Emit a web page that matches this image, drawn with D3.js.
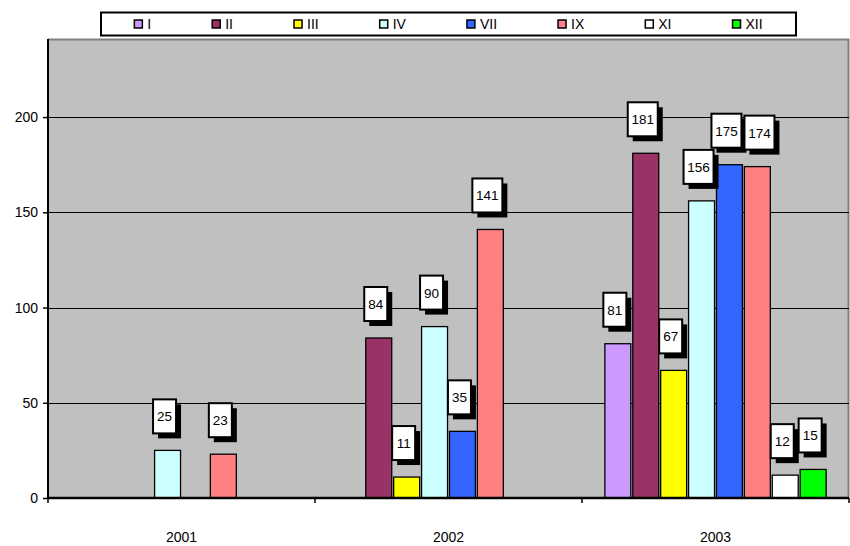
<!DOCTYPE html>
<html>
<head>
<meta charset="utf-8">
<script src="https://cdn.jsdelivr.net/npm/d3@7"></script>
<style>
  body { margin: 0; background: #fff; }
  text { font-family: Arial, "Liberation Sans", sans-serif; }
</style>
</head>
<body>
<svg id="chart" width="850" height="546"></svg>
<script>
const years = ["2001", "2002", "2003"];
const seriesNames = ["I", "II", "III", "IV", "VII", "IX", "XI", "XII"];
const seriesColors = ["#CC99FF", "#993366", "#FFFF00", "#CCFFFF", "#3366FF", "#FF8080", "#FFFFFF", "#00FF00"];
const valsI = [null, null, 81];
const valsII = [null, 84, 181];
const valsIII = [null, 11, 67];
const valsIV = [25, 90, 156];
const valsVII = [null, 35, 175];
const valsIX = [23, 141, 174];
const valsXI = [null, null, 12];
const valsXII = [null, null, 15];
const yTicks = [0, 50, 100, 150, 200];

const allVals = [valsI, valsII, valsIII, valsIV, valsVII, valsIX, valsXI, valsXII];

let data = [];
years.forEach((yr, j) => {
  seriesNames.forEach((s, i) => {
    if (allVals[i][j] != null) data.push({ series: s, year: yr, value: allVals[i][j], color: seriesColors[i] });
  });
});

let svg = d3.select("#chart");
let margin = { top: 39, right: 1, bottom: 48, left: 48 };
let width = 850 - margin.left - margin.right;
let height = 546 - margin.top - margin.bottom;

let g = svg.append("g")
  .attr("transform", "translate(" + margin.left + "," + margin.top + ")");

// scales
let x0 = d3.scaleBand().domain(years).range([0, width]).padding(0);
let x1 = d3.scaleBand().domain(seriesNames).range([0, x0.bandwidth()])
  .paddingInner(0.07).paddingOuter(0.82);
let y = d3.scaleLinear().domain([0, 241]).range([height, 0]);

// plot background
g.append("rect")
  .attr("width", width).attr("height", height)
  .attr("fill", "#C0C0C0");
g.append("path")
  .attr("d", "M0,0.5H" + (width - 0.5) + "V" + height)
  .attr("fill", "none").attr("stroke", "#808080").attr("stroke-width", 2);

// gridlines
g.selectAll(".grid")
  .data(yTicks.filter(d => d > 0))
  .enter().append("line")
  .attr("x1", 0).attr("x2", width)
  .attr("y1", d => Math.round(y(d)) + 0.5).attr("y2", d => Math.round(y(d)) + 0.5)
  .attr("stroke", "#000").attr("stroke-width", 1);

// bars
g.selectAll(".bar")
  .data(data)
  .enter().append("rect")
  .attr("class", "bar")
  .attr("x", d => x0(d.year) + x1(d.series))
  .attr("y", d => y(d.value))
  .attr("width", x1.bandwidth())
  .attr("height", d => height - y(d.value))
  .attr("fill", d => d.color)
  .attr("stroke", "#000")
  .attr("stroke-width", 1.3);

// data labels: white box with black drop shadow
let lab = g.selectAll(".lab")
  .data(data)
  .enter().append("g")
  .attr("class", "lab");

let prevRight = -Infinity, prevYear = null, prevTop = 0, prevBottom = 0;
lab.each(function (d) {
  let sel = d3.select(this);
  let cx = x0(d.year) + x1(d.series) + x1.bandwidth() / 2 - 3;
  let bw = String(d.value).length > 2 ? 30 : 23;
  let bh = 34;
  let by = y(d.value) - 17 - bh;
  let bx = cx - bw / 2;
  // nudge right when it would run into the previous label
  if (prevYear === d.year && bx < prevRight + 3 && by < prevBottom && by + bh > prevTop) {
    bx = prevRight + 3;
  }
  prevRight = bx + bw; prevYear = d.year; prevTop = by; prevBottom = by + bh;
  sel.append("rect")
    .attr("x", bx + 5).attr("y", by + 5)
    .attr("width", bw).attr("height", bh)
    .attr("fill", "#000");
  sel.append("rect")
    .attr("x", bx).attr("y", by)
    .attr("width", bw).attr("height", bh)
    .attr("fill", "#fff").attr("stroke", "#000").attr("stroke-width", 2);
  sel.append("text")
    .attr("x", bx + bw / 2).attr("y", by + bh / 2 + 5)
    .attr("text-anchor", "middle")
    .attr("font-size", "13.5px")
    .attr("fill", "#000")
    .text(d.value);
});

// y axis
let yAxis = g.append("g")
  .call(d3.axisLeft(y).tickValues(yTicks).tickSize(5).tickPadding(5).tickFormat(d3.format("d")));
yAxis.select(".domain").attr("stroke", "#000").attr("stroke-width", 2).attr("d", "M0,0V" + (height + 1));
yAxis.selectAll(".tick line").attr("stroke", "#000").attr("stroke-width", 1.5);
yAxis.selectAll("text").attr("font-size", "14px").attr("fill", "#000")
  .style("font-family", "Arial, 'Liberation Sans', sans-serif");

// x axis
let xAxis = g.append("g")
  .attr("transform", "translate(0," + height + ")");
xAxis.append("line")
  .attr("x1", -1).attr("x2", width).attr("y1", 0).attr("y2", 0)
  .attr("stroke", "#000").attr("stroke-width", 2.5);
xAxis.selectAll(".xt")
  .data(years.map(d => x0(d)).concat([width]))
  .enter().append("line")
  .attr("x1", d => d).attr("x2", d => d)
  .attr("y1", 0).attr("y2", 5)
  .attr("stroke", "#000").attr("stroke-width", 1.5);
xAxis.selectAll(".xl")
  .data(years)
  .enter().append("text")
  .attr("x", d => x0(d) + x0.bandwidth() / 2)
  .attr("y", 44)
  .attr("text-anchor", "middle")
  .attr("font-size", "14px")
  .attr("fill", "#000")
  .text(d => d);

// legend
let legend = svg.append("g");
legend.append("rect")
  .attr("x", 101).attr("y", 12.5).attr("width", 695).attr("height", 23)
  .attr("fill", "#fff").attr("stroke", "#000").attr("stroke-width", 2);

let items = legend.selectAll(".item")
  .data(seriesNames)
  .enter().append("g").attr("class", "item");
items.append("text")
  .attr("y", 29)
  .attr("font-size", "14px")
  .attr("fill", "#000")
  .text(d => d);
let widths = [];
items.select("text").each(function () { widths.push(this.getComputedTextLength()); });
let gap = 61;
let total = d3.sum(widths) + seriesNames.length * 13 + (seriesNames.length - 1) * gap;
let cursor = 101 + (695 - total) / 2;
items.each(function (d, i) {
  let it = d3.select(this);
  it.insert("rect", "text")
    .attr("x", cursor).attr("y", 20)
    .attr("width", 8).attr("height", 8)
    .attr("fill", seriesColors[i]).attr("stroke", "#000").attr("stroke-width", 1.5);
  it.select("text").attr("x", cursor + 13);
  cursor += 13 + widths[i] + gap;
});
</script>
</body>
</html>
